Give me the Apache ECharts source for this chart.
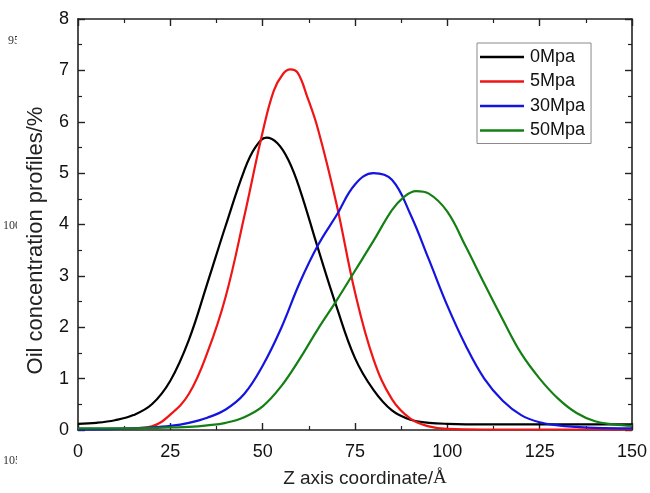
<!DOCTYPE html>
<html>
<head>
<meta charset="utf-8">
<script src="https://cdn.jsdelivr.net/npm/echarts@6/dist/echarts.min.js"></script>
<style>
  html, body { margin: 0; padding: 0; background: #fff; }
  #chart { width: 650px; height: 493px; }
</style>
</head>
<body>
<div id="chart"></div>
<script>
// Oil concentration profiles along the Z axis at four pressures
const seriesNames = ['0Mpa', '5Mpa', '30Mpa', '50Mpa'];
const seriesColors = ['#000000', '#f01414', '#1414e0', '#148014'];

const z0 = [0, 5, 10, 15, 20, 25, 30, 35, 40, 45, 48, 51, 54, 57, 60, 65, 70, 75, 80, 85, 90, 95, 100, 110, 120, 130, 140, 150];
const c0 = [0.12, 0.14, 0.19, 0.29, 0.5, 0.96, 1.75, 2.85, 3.98, 5.05, 5.5, 5.69, 5.58, 5.25, 4.7, 3.53, 2.4, 1.4, 0.78, 0.38, 0.2, 0.14, 0.12, 0.11, 0.11, 0.11, 0.11, 0.11];

const z5 = [0, 10, 15, 20, 25, 30, 35, 40, 45, 50, 53, 55.5, 57.5, 59.5, 62, 65, 70, 75, 80, 85, 90, 95, 100, 110, 120, 130, 140, 150];
const c5 = [0.02, 0.02, 0.03, 0.07, 0.3, 0.7, 1.5, 2.6, 4.15, 5.8, 6.6, 6.93, 7.02, 6.95, 6.5, 5.85, 4.4, 2.68, 1.38, 0.6, 0.22, 0.07, 0.02, 0.01, 0.01, 0.01, 0.01, 0.01];

const z30 = [0, 10, 20, 25, 30, 35, 40, 45, 50, 55, 60, 65, 70, 75, 80, 85, 90, 95, 100, 105, 110, 115, 120, 125, 130, 135, 140, 150];
const c30 = [0.01, 0.02, 0.05, 0.08, 0.14, 0.24, 0.4, 0.7, 1.25, 1.98, 2.86, 3.6, 4.18, 4.78, 5.0, 4.87, 4.2, 3.32, 2.42, 1.64, 1.0, 0.57, 0.29, 0.15, 0.09, 0.06, 0.04, 0.03];

const z50 = [0, 10, 20, 25, 30, 35, 40, 45, 50, 55, 60, 65, 70, 75, 80, 85, 88, 91.5, 95, 100, 105, 110, 115, 120, 125, 130, 135, 140, 145, 150];
const c50 = [0.03, 0.03, 0.04, 0.05, 0.06, 0.09, 0.14, 0.25, 0.46, 0.85, 1.38, 1.97, 2.52, 3.1, 3.68, 4.28, 4.52, 4.65, 4.6, 4.25, 3.57, 2.85, 2.15, 1.49, 1.0, 0.61, 0.33, 0.17, 0.11, 0.08];

const xTicks = [0, 25, 50, 75, 100, 125, 150];
const yTicks = [0, 1, 2, 3, 4, 5, 6, 7, 8];

const profiles = [[z0, c0], [z5, c5], [z30, c30], [z50, c50]];
const pair = (xs, ys) => xs.map((x, i) => [x, ys[i]]);

const FONT = 'Liberation Sans, Arial, sans-serif';
const axisColor = '#222';

const chart = echarts.init(document.getElementById('chart'), null, { renderer: 'canvas' });

const baseAxis = {
  axisLine: { show: true, onZero: false, lineStyle: { color: axisColor, width: 1.6 } },
  axisTick: { show: true, inside: true, length: 7, lineStyle: { color: axisColor, width: 1.4 } },
  minorTick: { show: true, splitNumber: 2, length: 4, lineStyle: { color: axisColor, width: 1.2 } },
  splitLine: { show: false },
  minorSplitLine: { show: false }
};

chart.setOption({
  animation: false,
  backgroundColor: '#ffffff',
  grid: { left: 78, right: 18, top: 19, bottom: 60, containLabel: false },
  legend: {
    orient: 'vertical',
    left: 477,
    top: 43,
    padding: [4, 6, 3, 3],
    borderColor: '#8a8a8a',
    borderWidth: 1,
    backgroundColor: '#fff',
    itemWidth: 44,
    itemHeight: 2.5,
    itemGap: 4.5,
    icon: 'rect',
    data: seriesNames,
    textStyle: { fontFamily: FONT, fontSize: 18, color: '#111', lineHeight: 20, padding: [0, 0, 0, 1] }
  },
  xAxis: [
    Object.assign({}, baseAxis, {
      type: 'value', min: xTicks[0], max: xTicks[xTicks.length - 1], interval: 25,
      position: 'bottom',
      name: 'Z axis coordinate/{s|Å}',
      nameLocation: 'middle', nameGap: 39,
      nameTextStyle: {
        fontFamily: FONT, fontSize: 19, color: '#222', padding: [0, 0, 0, 20],
        rich: { s: { fontFamily: 'Liberation Serif, serif', fontSize: 19, color: '#222' } }
      },
      axisLabel: { fontFamily: FONT, fontSize: 18, color: '#111', margin: 13 }
    }),
    Object.assign({}, baseAxis, {
      type: 'value', min: 0, max: 150, interval: 25, position: 'top',
      axisLabel: { show: false }
    })
  ],
  yAxis: [
    Object.assign({}, baseAxis, {
      type: 'value', min: yTicks[0], max: yTicks[yTicks.length - 1], interval: 1,
      position: 'left',
      name: 'Oil concentration profiles/%',
      nameLocation: 'middle', nameGap: 31, nameRotate: 90,
      nameTextStyle: { fontFamily: FONT, fontSize: 22, color: '#222', padding: [0, 32, 0, 0] },
      axisLabel: { fontFamily: FONT, fontSize: 18, color: '#111', margin: 9 }
    }),
    Object.assign({}, baseAxis, {
      type: 'value', min: 0, max: 8, interval: 1, position: 'right',
      axisLabel: { show: false }
    })
  ],
  graphic: [
    { type: 'text', left: 8, top: 35, z: 10, style: { text: '95', font: '12px "Liberation Serif", serif', fill: '#333' } },
    { type: 'text', left: 3, top: 220, z: 10, style: { text: '100', font: '12px "Liberation Serif", serif', fill: '#333' } },
    { type: 'text', left: 3, top: 455, z: 10, style: { text: '105', font: '12px "Liberation Serif", serif', fill: '#333' } },
    { type: 'rect', left: 17, top: 30, z: 11, shape: { width: 5, height: 450 }, style: { fill: '#fff' } }
  ],
  series: profiles.map((p, i) => ({
    name: seriesNames[i],
    type: 'line',
    data: pair(p[0], p[1]),
    smooth: 0.4,
    showSymbol: false,
    symbol: 'none',
    color: seriesColors[i],
    lineStyle: { color: seriesColors[i], width: 2.2 },
    xAxisIndex: 0,
    yAxisIndex: 0,
    z: 2 + i
  }))
});
</script>
</body>
</html>
